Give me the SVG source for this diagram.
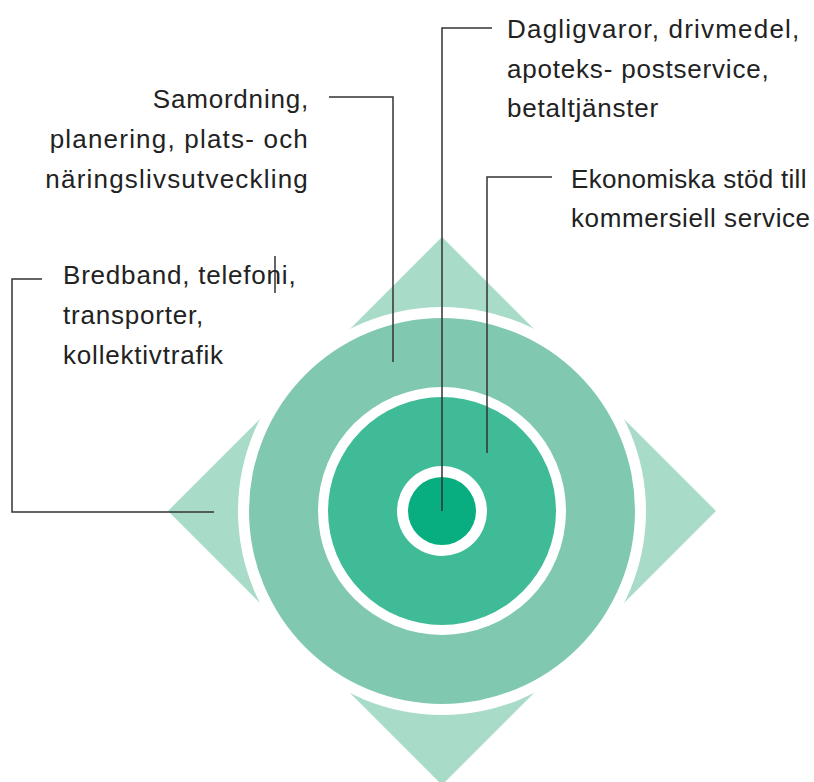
<svg xmlns="http://www.w3.org/2000/svg" width="814" height="782" viewBox="0 0 814 782">
<style>
.lbl{font-family:"Liberation Sans",Arial,sans-serif;font-size:26px;fill:#222;letter-spacing:0.8px}
.end{text-anchor:end}
.wide{letter-spacing:1.2px}
.tight{letter-spacing:0.3px}
.mid{letter-spacing:0.6px}
.conn{fill:none;stroke:#333;stroke-width:1.5}
</style>
<rect width="814" height="782" fill="#fff"/>
<g id="diagram">
<g id="diamond"><polygon points="442,237 716,511 442,785 168,511" fill="#a8dbc8"/></g>
<g id="ring-outer"><circle cx="442" cy="511" r="204" fill="#fff"/><circle cx="442" cy="511" r="193" fill="#80c9b0"/></g>
<g id="ring-middle"><circle cx="442" cy="511" r="124" fill="#fff"/><circle cx="442" cy="511" r="114" fill="#40bb97"/></g>
<g id="core"><circle cx="442" cy="511" r="45" fill="#fff"/><circle cx="442" cy="511" r="34" fill="#08ae80"/></g>
</g>
<g id="connectors">
<polyline class="conn" points="214,512 12,512 12,279 42,279"/>
<polyline class="conn" points="329,97 393,97 393,362"/>
<polyline class="conn" points="442,511 442,28 492,28"/>
<polyline class="conn" points="487,453 487,177 552,177"/>
<line class="conn" x1="275" y1="256" x2="275" y2="293" stroke-width="1.2"/>
</g>
<g id="label-daglig">
<text class="lbl wide" x="507" y="38">Dagligvaror, drivmedel,</text>
<text class="lbl" x="507" y="78">apoteks- postservice,</text>
<text class="lbl" x="507" y="117">betaltjänster</text>
</g>
<g id="label-ekonomi">
<text class="lbl tight" x="571" y="188">Ekonomiska stöd till</text>
<text class="lbl mid" x="571" y="227">kommersiell service</text>
</g>
<g id="label-samordning">
<text class="lbl end" x="309" y="108">Samordning,</text>
<text class="lbl end wide" x="309" y="148">planering, plats- och</text>
<text class="lbl end wide" x="309" y="188">näringslivsutveckling</text>
</g>
<g id="label-bredband">
<text class="lbl" x="63" y="284">Bredband, telefoni,</text>
<text class="lbl" x="63" y="324">transporter,</text>
<text class="lbl" x="63" y="364">kollektivtrafik</text>
</g>
</svg>
